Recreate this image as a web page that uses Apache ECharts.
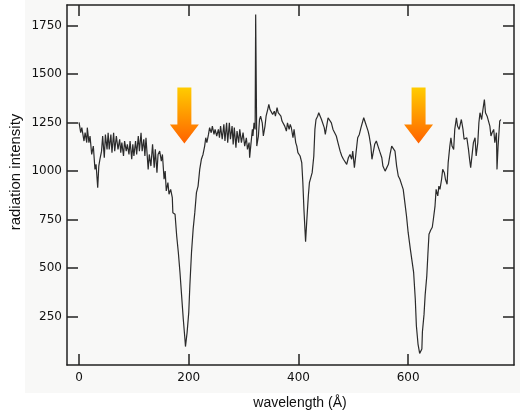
<!DOCTYPE html>
<html>
<head>
<meta charset="utf-8">
<script src="https://cdn.jsdelivr.net/npm/echarts@6/dist/echarts.min.js"></script>
<style>
html, body { margin: 0; padding: 0; background: #fff; }
#chart { width: 520px; height: 415px; }
</style>
</head>
<body>
<div id="chart"></div>
<script>
// spectrum: [wavelength (Å), radiation intensity]
const spectrum = [
  [0,1250],[3,1197],[5,1223],[9,1154],[11,1197],[14,1146],[15,1223],[18,1146],[20,1180],[23,1085],
  [26,1128],[29,1008],[31,1034],[34,914],[36,1025],[38,1060],[41,1102],[43,1180],[46,1068],[48,1188],
  [51,1111],[53,1197],[55,1111],[58,1188],[60,1094],[63,1197],[65,1102],[68,1180],[71,1111],[74,1163],
  [76,1094],[78,1146],[81,1077],[83,1154],[86,1102],[88,1137],[91,1085],[93,1154],[96,1060],[98,1137],
  [100,1077],[103,1154],[105,1085],[108,1180],[110,1102],[113,1197],[115,1102],[118,1163],[120,1077],[122,1171],
  [126,1008],[128,1085],[131,1025],[134,1137],[137,1017],[139,1111],[142,991],[144,1085],
  [147,1102],[150,1051],[152,1085],[155,957],[157,999],[159,897],[162,940],[164,880],[167,905],[170,863],
  [171,785],[175,777],[178,665],[181,580],[184,477],[187,356],[190,237],[193,134],[194,95],[197,168],
  [200,271],[202,408],[205,580],[208,700],[211,785],[214,888],[217,922],[220,1008],[223,1060],[226,1085],
  [229,1128],[231,1171],[233,1146],[236,1188],[238,1223],[241,1197],[243,1231],[246,1188],[248,1214],[251,1180],
  [254,1214],[256,1171],[258,1231],[261,1163],[264,1240],[266,1154],[269,1248],[271,1146],[274,1248],[276,1163],
  [279,1231],[281,1137],[283,1223],[286,1120],[288,1205],[291,1146],[293,1214],[296,1146],[299,1197],[302,1128],
  [305,1171],[307,1111],[310,1146],[311,1068],[313,1128],[316,1214],[317,1180],[319,1248],[321,1214],[322,1806],
  [324,1128],[327,1180],[329,1265],[331,1282],[334,1248],[336,1180],[339,1231],[341,1282],[344,1317],[346,1343],
  [348,1317],[351,1326],[353,1291],[356,1308],[358,1282],[361,1326],[363,1300],[366,1308],[368,1282],[370,1257],
  [373,1248],[375,1231],[378,1205],[380,1248],[383,1214],[385,1240],[387,1223],[390,1171],[392,1214],[395,1146],
  [397,1128],[399,1094],[403,1077],[406,1043],[408,940],[410,802],[413,635],[415,734],[418,871],[420,940],
  [422,931],[425,991],[428,1077],[430,1214],[432,1265],[435,1282],[437,1300],[440,1291],[442,1265],[445,1257],
  [447,1223],[449,1188],[452,1240],[454,1274],[457,1265],[460,1248],[463,1214],[466,1197],[469,1180],[472,1146],
  [476,1102],[479,1077],[482,1060],[485,1051],[488,1034],[491,1068],[494,1085],[497,1060],[499,1102],[502,1017],
  [505,1094],[508,1171],[511,1188],[514,1223],[517,1231],[519,1274],[522,1248],[524,1231],[527,1205],[529,1180],
  [532,1128],[534,1060],[537,1068],[539,1137],[542,1154],[545,1128],[548,1102],[552,1068],[554,1025],[558,999],
  [561,1008],[564,1034],[567,1085],[570,1128],[573,1120],[576,1102],[579,1025],[582,974],[585,957],[588,931],
  [591,905],[594,837],[597,768],[600,683],[604,597],[610,477],[613,340],[615,202],[618,108],[621,60],
  [625,82],[626,170],[629,262],[631,360],[634,459],[636,571],[638,674],[641,694],[644,710],[646,751],
  [649,819],[651,905],[654,871],[656,922],[658,905],[661,957],[663,1008],[666,991],[668,957],[671,931],
  [673,1043],[676,1128],[678,1171],[680,1128],[683,1111],[685,1214],[688,1274],[690,1231],[693,1214],[695,1240],
  [697,1265],[700,1214],[702,1163],[705,1154],[707,1171],[710,1111],[712,1060],[714,1017],[717,1094],[719,1146],
  [722,1171],[724,1077],[727,1146],[729,1248],[731,1300],[734,1265],[736,1308],[739,1368],[741,1300],[744,1282],
  [746,1282],[749,1231],[751,1180],[753,1197],[756,1214],[758,1146],[761,1197],[762,1008],[764,1128],[767,1257],
  [769,1265]
];

const xTicks = [0, 200, 400, 600];
const yTicks = [250, 500, 750, 1000, 1250, 1500, 1750];
// the two absorption dips the arrows point at: [wavelength, intensity]
const arrows = [[192, 1286], [619, 1286]];

const chart = echarts.init(document.getElementById('chart'));

const frame = { show: true, onZero: false, lineStyle: { color: '#222', width: 1.5 } };
const ticks = function (vals) {
  return { show: true, inside: true, length: 11, customValues: vals, lineStyle: { color: '#222', width: 1.5 } };
};
const lblFont = { fontFamily: 'DejaVu Sans', fontSize: 12, color: '#111', formatter: function (v) { return String(v); } };

chart.setOption({
  animation: false,
  backgroundColor: '#fff',
  graphic: [
    { type: 'rect', z: -10, shape: { x: 25, y: 0, width: 495, height: 393 }, style: { fill: '#f8f8f7' } },
    { type: 'text', x: 300, y: 403, style: { text: 'wavelength (Å)', font: '14px "Liberation Sans"', fill: '#111', align: 'center', verticalAlign: 'middle' } },
    { type: 'text', x: 16, y: 172, rotation: Math.PI / 2, style: { text: 'radiation intensity', font: '15px "Liberation Sans"', fill: '#111', align: 'center', verticalAlign: 'middle' } }
  ],
  grid: { left: 67, right: 6, top: 5, bottom: 50 },
  xAxis: [
    {
      type: 'value', min: -22, max: 793, position: 'bottom',
      axisLine: frame, axisTick: ticks(xTicks), splitLine: { show: false },
      axisLabel: Object.assign({ customValues: xTicks, margin: 7 }, lblFont)
    },
    {
      type: 'value', min: -22, max: 793, position: 'top',
      axisLine: frame, axisTick: ticks(xTicks), splitLine: { show: false },
      axisLabel: { show: false }
    }
  ],
  yAxis: [
    {
      type: 'value', min: 0, max: 1855, position: 'left',
      axisLine: frame, axisTick: ticks(yTicks), splitLine: { show: false },
      axisLabel: Object.assign({ customValues: yTicks, margin: 5 }, lblFont)
    },
    {
      type: 'value', min: 0, max: 1855, position: 'right',
      axisLine: frame, axisTick: ticks(yTicks), splitLine: { show: false },
      axisLabel: { show: false }
    }
  ],
  series: [
    {
      type: 'line',
      data: spectrum,
      showSymbol: false,
      lineStyle: { color: '#2b2b2b', width: 1.2 },
      markPoint: {
        symbol: 'path://M7.5,0 L21.5,0 L21.5,37 L29,37 L14.5,56 L0,37 L7.5,37 Z',
        symbolSize: [29, 56],
        symbolKeepAspect: false,
        label: { show: false },
        itemStyle: {
          color: {
            type: 'linear', x: 0, y: 0, x2: 0, y2: 1,
            colorStops: [{ offset: 0, color: '#ffcc00' }, { offset: 1, color: '#ff6200' }]
          }
        },
        data: arrows.map(function (a) { return { coord: a }; })
      }
    }
  ]
});
</script>
</body>
</html>
